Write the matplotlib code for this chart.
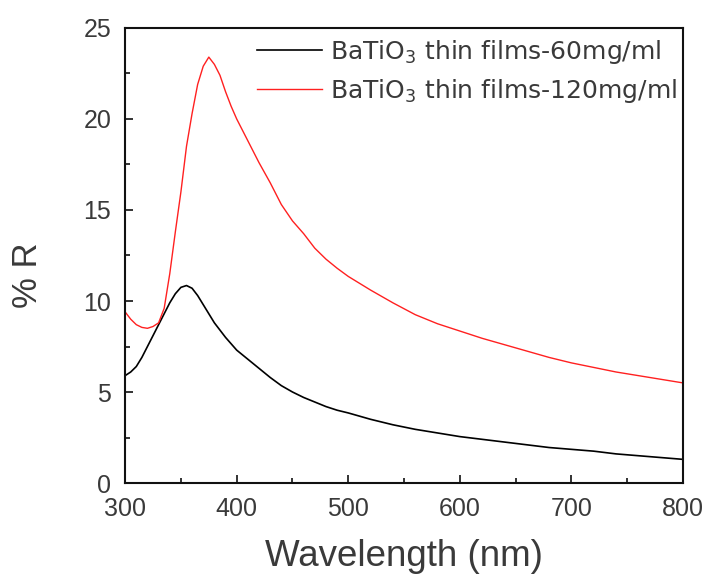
import matplotlib
matplotlib.use("Agg")
import matplotlib.pyplot as plt
from matplotlib.ticker import MultipleLocator

plt.rcParams['font.family'] = ['Liberation Sans', 'DejaVu Sans']
plt.rcParams['mathtext.fontset'] = 'custom'
plt.rcParams['mathtext.rm'] = 'DejaVu Sans'

# Reflectance spectra (%R) of BaTiO3 thin films
wl_60 = [300, 305, 310, 315, 320, 325, 330, 335, 340, 345, 350, 355, 360, 365,
         370, 375, 380, 390, 400, 410, 420, 430, 440, 450, 460, 470, 480, 490,
         500, 520, 540, 560, 580, 600, 620, 640, 660, 680, 700, 720, 740, 760,
         780, 800]
r_60 = [5.9, 6.1, 6.4, 6.9, 7.5, 8.1, 8.7, 9.3, 9.9, 10.4, 10.75, 10.85, 10.7,
        10.3, 9.8, 9.3, 8.8, 8.0, 7.3, 6.8, 6.3, 5.8, 5.35, 5.0, 4.7, 4.45,
        4.2, 4.0, 3.85, 3.5, 3.2, 2.95, 2.75, 2.55, 2.4, 2.25, 2.1, 1.95, 1.85,
        1.75, 1.6, 1.5, 1.4, 1.3]

wl_120 = [300, 305, 310, 315, 320, 325, 330, 335, 340, 345, 350, 355, 360, 365,
          370, 375, 380, 385, 390, 395, 400, 410, 420, 430, 440, 450, 460, 470,
          480, 490, 500, 520, 540, 560, 580, 600, 620, 640, 660, 680, 700, 720,
          740, 760, 780, 800]
r_120 = [9.4, 9.0, 8.7, 8.55, 8.5, 8.6, 8.8, 9.6, 11.5, 13.8, 16.0, 18.5, 20.3,
         21.9, 22.9, 23.4, 23.0, 22.4, 21.5, 20.7, 20.0, 18.8, 17.6, 16.5, 15.3,
         14.4, 13.7, 12.9, 12.3, 11.8, 11.35, 10.6, 9.9, 9.25, 8.75, 8.35, 7.95,
         7.6, 7.25, 6.9, 6.6, 6.35, 6.1, 5.9, 5.7, 5.5]

labels = ['BaTiO$_3$ thin films-60mg/ml', 'BaTiO$_3$ thin films-120mg/ml']

text_grey = '#3a3a3a'

fig = plt.figure(figsize=(7.11, 5.83), dpi=100)
ax = fig.add_axes([0.176, 0.1715, 0.7846, 0.7805])

ax.plot(wl_60, r_60, color='black', lw=1.2, label=labels[0])
ax.plot(wl_120, r_120, color='#ff2020', lw=1.0, label=labels[1])

ax.set_xlim(300, 800)
ax.set_ylim(0, 25)
ax.xaxis.set_major_locator(MultipleLocator(100))
ax.xaxis.set_minor_locator(MultipleLocator(50))
ax.yaxis.set_major_locator(MultipleLocator(5))
ax.yaxis.set_minor_locator(MultipleLocator(2.5))
ax.tick_params(which='both', direction='in', top=False, right=False,
               width=1.2, colors='#111111', labelcolor=text_grey,
               labelsize=18, pad=10)
ax.tick_params(which='major', length=6)
ax.tick_params(which='minor', length=3.5)
for s in ax.spines.values():
    s.set_linewidth(1.5)
    s.set_color('#111111')

ax.set_xlabel('Wavelength (nm)', fontsize=26.5, color=text_grey, labelpad=13)
ax.set_ylabel('% R', fontsize=25, color=text_grey)
ax.yaxis.set_label_coords(-0.145, 0.457)

leg = ax.legend(loc='upper left', bbox_to_anchor=(0.2366, 0.978), frameon=False,
                prop={'family': 'DejaVu Sans', 'size': 18},
                handlelength=2.6, handletextpad=0.32,
                labelspacing=0.45, borderaxespad=0, borderpad=0)
for t in leg.get_texts():
    t.set_color(text_grey)

fig.savefig('out.png', dpi=100)
